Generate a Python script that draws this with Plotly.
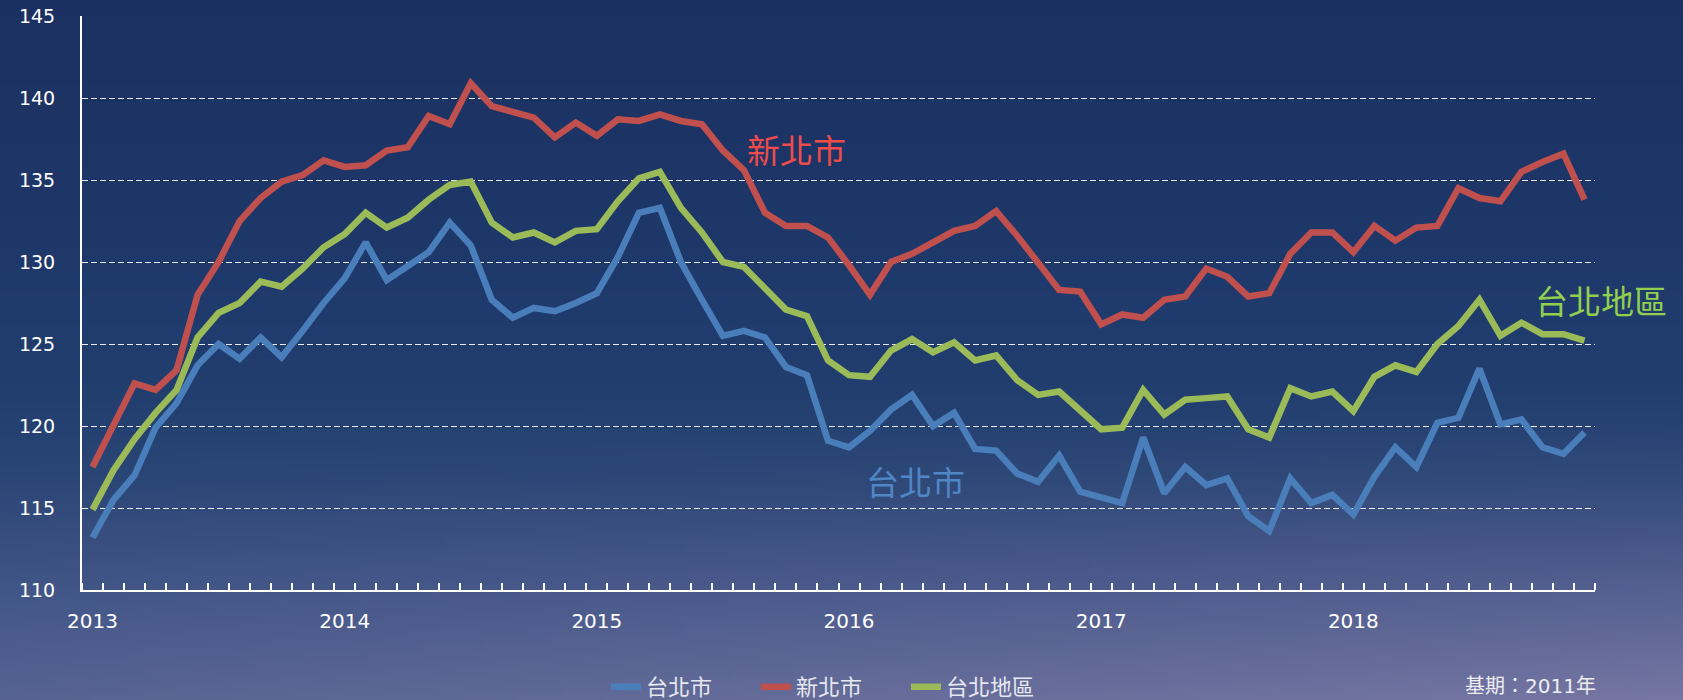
import base64
import struct
import zlib

import numpy as np
import plotly.graph_objects as go

# Monthly house price index, Jan 2013 – Dec 2018 (base year 2011)
years = ["2013", "2014", "2015", "2016", "2017", "2018"]
months = list(range(72))

taipei_city = [
    113.2, 115.5, 117.0, 119.9, 121.4, 123.7, 125.0, 124.1, 125.4, 124.2, 125.8, 127.5,
    129.0, 131.2, 128.9, 129.8, 130.6, 132.4, 131.0, 127.7, 126.6, 127.2, 127.0, 127.5,
    128.1, 130.3, 133.0, 133.3, 130.0, 127.7, 125.5, 125.8, 125.4, 123.6, 123.1, 119.1,
    118.7, 119.7, 121.0, 121.9, 120.0, 120.8, 118.6, 118.5, 117.1, 116.6, 118.2, 116.0,
    115.7, 115.3, 119.3, 115.9, 117.5, 116.4, 116.8, 114.5, 113.6, 116.8, 115.3, 115.8,
    114.6, 116.9, 118.7, 117.5, 120.2, 120.5, 123.5, 120.1, 120.4, 118.7, 118.3, 119.6,
]
new_taipei = [
    117.5, 120.0, 122.6, 122.2, 123.4, 128.0, 130.0, 132.5, 133.9, 134.9, 135.3, 136.2,
    135.8, 135.9, 136.8, 137.0, 138.9, 138.4, 140.9, 139.5, 139.1, 138.8, 137.6, 138.5,
    137.7, 138.7, 138.6, 139.0, 138.6, 138.4, 136.8, 135.6, 133.0, 132.2, 132.2, 131.5,
    129.8, 128.0, 130.0, 130.5, 131.2, 131.9, 132.2, 133.1, 131.6, 130.0, 128.3, 128.2,
    126.2, 126.8, 126.6, 127.7, 127.9, 129.6, 129.1, 127.9, 128.1, 130.5, 131.8, 131.8,
    130.6, 132.2, 131.3, 132.1, 132.2, 134.5, 133.9, 133.7, 135.5, 136.1, 136.6, 133.8,
]
taipei_area = [
    114.9, 117.3, 119.2, 120.8, 122.2, 125.4, 126.9, 127.5, 128.8, 128.5, 129.6, 130.9,
    131.7, 133.0, 132.1, 132.7, 133.8, 134.7, 134.9, 132.4, 131.5, 131.8, 131.2, 131.9,
    132.0, 133.7, 135.1, 135.5, 133.3, 131.8, 130.0, 129.7, 128.4, 127.1, 126.7, 124.0,
    123.1, 123.0, 124.6, 125.3, 124.5, 125.1, 124.0, 124.3, 122.8, 121.9, 122.1, 120.9,
    119.8, 119.9, 122.2, 120.7, 121.6, 121.7, 121.8, 119.8, 119.3, 122.3, 121.8, 122.1,
    120.9, 123.0, 123.7, 123.3, 125.0, 126.1, 127.7, 125.5, 126.3, 125.6, 125.6, 125.2,
]
y_ticks = [110, 115, 120, 125, 130, 135, 140, 145]

W, H = 1683, 700
L, R, T, B = 82, 88, 16, 110
PW, PH = W - L - R, H - T - B


def gradient_png(w, h):
    """Night-sky background: navy on top, fading to lavender at the lower right."""
    ys = np.linspace(0, H, h)
    xs = np.linspace(0, 1, w)
    stops_y = [0, 250, 400, 470, 530, 590, 650, 700]
    stops_c = np.array([
        (27, 48, 96), (30, 56, 106), (34, 63, 112), (42, 70, 118),
        (56, 78, 127), (68, 87, 137), (80, 95, 143), (90, 102, 148),
    ], dtype=float)
    col = np.stack([np.interp(ys, stops_y, stops_c[:, k]) for k in range(3)], axis=1)
    img = np.repeat(col[:, None, :], w, axis=1)
    s = np.clip((ys - 380) / 320, 0, 1) ** 1.2
    tint = np.array([35, 21, 18], dtype=float)
    img += xs[None, :, None] * s[:, None, None] * tint[None, None, :]
    rgb = np.clip(img, 0, 255).astype(np.uint8)
    raw = b"".join(b"\x00" + rgb[r].tobytes() for r in range(h))

    def chunk(tag, data):
        return (struct.pack(">I", len(data)) + tag + data
                + struct.pack(">I", zlib.crc32(tag + data) & 0xFFFFFFFF))

    png = (b"\x89PNG\r\n\x1a\n"
           + chunk(b"IHDR", struct.pack(">IIBBBBB", w, h, 8, 2, 0, 0, 0))
           + chunk(b"IDAT", zlib.compress(raw, 9))
           + chunk(b"IEND", b""))
    return "data:image/png;base64," + base64.b64encode(png).decode()


NUM_FONT = "DejaVu Sans, Noto Sans CJK TC, sans-serif"
CJK_FONT = "Noto Sans CJK TC, sans-serif"

fig = go.Figure()
series = [
    ("台北市", taipei_city, "#4a7ebb"),
    ("新北市", new_taipei, "#c0504d"),
    ("台北地區", taipei_area, "#9bbb59"),
]
for name, vals, color in series:
    fig.add_trace(go.Scatter(
        x=months, y=vals, name=name, mode="lines",
        line=dict(color=color, width=6.5),
        hoverinfo="skip",
    ))

# Series labels drawn next to their lines
labels = [
    ("新北市", "x", 33.5, 136.9, "#ee4b4b"),
    ("台北市", "x", 39.15, 116.65, "#4f86c6"),
    ("台北地區", "paper", (1601 - L) / PW, 127.7, "#92cf4f"),
]
for text, xref, lx, ly, color in labels:
    fig.add_annotation(x=lx, y=ly, xref=xref, yref="y", text=text, showarrow=False,
                       font=dict(family=CJK_FONT, size=33, color=color),
                       xanchor="center", yanchor="middle")

fig.add_annotation(
    x=(1598 - L) / PW, y=(H - B - 686) / PH, xref="paper", yref="paper",
    text="基期：2011年", showarrow=False, xanchor="right", yanchor="middle",
    font=dict(family=NUM_FONT, size=20, color="#eceef4"),
)

# Background covering the whole page (slightly oversized)
pad = 20
fig.add_layout_image(dict(
    source=gradient_png(421, 175),
    xref="paper", yref="paper",
    x=(-L - pad) / PW, y=1 + (T + pad) / PH,
    sizex=(W + 2 * pad) / PW, sizey=(H + 2 * pad) / PH,
    xanchor="left", yanchor="top", sizing="stretch", layer="below",
))

fig.update_layout(
    width=W, height=H,
    margin=dict(l=L, r=R, t=T, b=B, autoexpand=False),
    paper_bgcolor="#3a4c7c",
    plot_bgcolor="rgba(0,0,0,0)",
    showlegend=True,
    legend=dict(
        orientation="h", xref="container", yref="container",
        x=606 / W, xanchor="left",
        y=(H - 687) / H, yanchor="middle",
        font=dict(family=CJK_FONT, size=22, color="#e6e8f0"),
        entrywidth=105, bgcolor="rgba(0,0,0,0)",
    ),
    xaxis=dict(
        range=[-0.5, 71.5],
        tickmode="array", tickvals=[0, 12, 24, 36, 48, 60], ticktext=years,
        ticks="", showgrid=False, zeroline=False,
        showline=True, linecolor="white", linewidth=2,
        tickfont=dict(family=NUM_FONT, size=20, color="white"),
        ticklabelstandoff=12,
        minor=dict(tickmode="linear", tick0=-0.5, dtick=1, ticks="inside",
                   ticklen=7, tickwidth=2, tickcolor="white", showgrid=False),
    ),
    yaxis=dict(
        range=[110, 145], tickmode="array", tickvals=y_ticks,
        ticks="", zeroline=False,
        showgrid=True, gridcolor="rgba(255,255,255,0.9)", gridwidth=1,
        griddash="6px,3px",
        showline=True, linecolor="white", linewidth=2,
        tickfont=dict(family=NUM_FONT, size=19, color="white"),
        ticklabelstandoff=21,
    ),
)

fig.write_html("out.html")
